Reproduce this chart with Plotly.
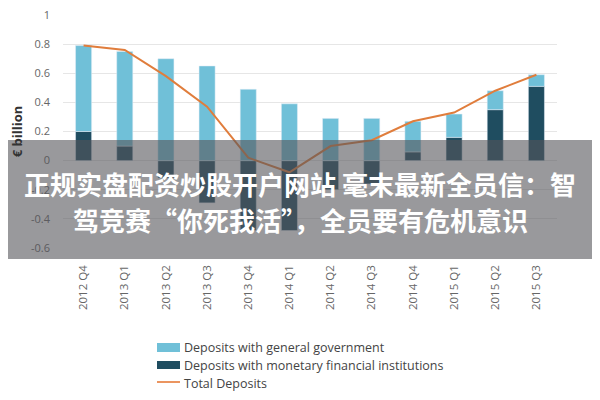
import plotly.graph_objects as go

quarters = ["2012 Q4", "2013 Q1", "2013 Q2", "2013 Q3", "2013 Q4", "2014 Q1",
            "2014 Q2", "2014 Q3", "2014 Q4", "2015 Q1", "2015 Q2", "2015 Q3"]
general_gov = [0.59, 0.65, 0.70, 0.65, 0.49, 0.39, 0.29, 0.29, 0.21, 0.16, 0.13, 0.08]
monetary_fin = [0.20, 0.10, -0.12, -0.29, -0.48, -0.48, -0.20, -0.16, 0.06, 0.16, 0.35, 0.51]
total_deposits = [0.79, 0.76, 0.58, 0.37, 0.02, -0.08, 0.10, 0.14, 0.27, 0.33, 0.48, 0.59]
y_ticks = [-0.6, -0.4, -0.2, 0, 0.2, 0.4, 0.6, 0.8, 1]
y_labels = ["-0.6", "-0.4", "-0.2", "0", "0.2", "0.4", "0.6", "0.8", "1"]
series_names = ["Deposits with general government",
                "Deposits with monetary financial institutions",
                "Total Deposits"]
colors = ["#70c0d8", "#1f4d60", "#e07d3c"]

headline1 = "正规实盘配资炒股开户网站 毫末最新全员信：智"
headline2 = "驾竞赛“你死我活”，全员要有危机意识"

# page body margin pushes the figure 8px right/down
OFF = 8
# plot area in screen pixels
L, R, T, B = 63, 557, 15, 248


def px(x):
    return (x - L) / (R - L)


def py(y):
    return (B - y) / (B - T)


fig = go.Figure()
# dark first so it sits at the base of the stack
fig.add_trace(go.Bar(x=quarters, y=monetary_fin, name=series_names[1], marker_color=colors[1]))
fig.add_trace(go.Bar(x=quarters, y=general_gov, name=series_names[0], marker_color=colors[0]))
fig.add_trace(go.Scatter(x=quarters, y=total_deposits, mode="lines", name=series_names[2],
                         line=dict(color=colors[2], width=2)))

fig.update_layout(
    width=600, height=400,
    margin=dict(l=L - OFF, r=600 - R + OFF, t=T - OFF, b=400 - B + OFF),
    barmode="relative", bargap=0.61,
    plot_bgcolor="white", paper_bgcolor="white",
    font=dict(family="Open Sans", color="#666666", size=11),
    showlegend=False,
)
fig.update_yaxes(range=[-0.6, 1.0], tickvals=y_ticks, ticktext=y_labels,
                 showgrid=True, gridcolor="#e6e6e6", zeroline=False,
                 ticklabelstandoff=12, ticklabeloverflow="allow", automargin=False,
                 title=dict(text="<b>€ billion</b>", font=dict(size=13, color="#333333"), standoff=6))
fig.update_xaxes(tickangle=-90, showgrid=False, showline=False, ticklabelstandoff=14,
                 automargin=False, tickfont=dict(size=11.5, color="#666666"))

# hand-made legend below the chart
fig.add_shape(type="rect", xref="paper", yref="paper", x0=px(157), x1=px(180),
              y0=py(352), y1=py(343), fillcolor=colors[0], line_width=0)
fig.add_shape(type="rect", xref="paper", yref="paper", x0=px(157), x1=px(180),
              y0=py(369), y1=py(361), fillcolor=colors[1], line_width=0)
fig.add_shape(type="line", xref="paper", yref="paper", x0=px(157), x1=px(180),
              y0=py(382), y1=py(382), line=dict(color="#eb9560", width=2))
for name, yy in zip(series_names, [347, 365, 383]):
    fig.add_annotation(text=name, xref="paper", yref="paper", x=px(182), y=py(yy),
                       showarrow=False, xanchor="left", yanchor="middle",
                       font=dict(size=12.5, color="#444444"))

# grey banner with headline text
fig.add_shape(type="rect", xref="paper", yref="paper",
              x0=-0.2, x1=1.2, y0=py(259), y1=py(140),
              fillcolor="rgba(85,85,90,0.6)", line_width=0, layer="above")
fig.add_annotation(text="<b>" + headline1 + "</b>", xref="paper", yref="paper", x=px(300), y=py(183),
                   showarrow=False, font=dict(family="Noto Sans CJK SC", size=26, color="white"),
                   xanchor="center", yanchor="middle")
fig.add_annotation(text="<b>" + headline2 + "</b>", xref="paper", yref="paper", x=px(300), y=py(219),
                   showarrow=False, font=dict(family="Noto Sans CJK SC", size=26, color="white"),
                   xanchor="center", yanchor="middle")

fig.write_html("out.html")
